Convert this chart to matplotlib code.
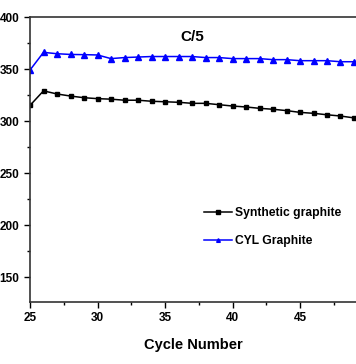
import matplotlib
matplotlib.use("Agg")
import matplotlib.pyplot as plt
from matplotlib.ticker import MultipleLocator

cycles = list(range(25, 50))
synthetic = [315, 329, 326, 324, 322.4, 321.5, 321, 320, 320, 319, 318.5, 318, 317, 317,
             315.7, 314.4, 313.5, 312.2, 311.3, 310, 308.3, 307.4, 306, 304.8, 303]
cyl = [349, 366, 364.7, 364, 363.8, 363.5, 360, 361, 361.5, 362, 362, 362, 362, 361,
       361, 360, 360, 360, 359, 359, 358, 358, 358, 357, 357]

plt.rcParams['font.family'] = ['Liberation Sans', 'DejaVu Sans']
plt.rcParams['font.weight'] = 'bold'

fig = plt.figure(figsize=(3.56, 3.64), dpi=100)
ax = fig.add_axes([30/356, 1-302/364, 1-30/356, (302-17)/364])

ax.plot(cycles, synthetic, color='black', marker='s', markersize=3.2, linewidth=1.1,
        label='Synthetic graphite')
ax.plot(cycles, cyl, color='blue', marker='^', markersize=3.8, linewidth=1.1,
        label='CYL Graphite')

ax.set_xlim(25, 25 + 326/13.5)
ax.set_ylim(126, 400)
ax.xaxis.set_major_locator(MultipleLocator(5))
ax.xaxis.set_minor_locator(MultipleLocator(2.5))
ax.yaxis.set_major_locator(MultipleLocator(50))
ax.yaxis.set_minor_locator(MultipleLocator(25))
ax.tick_params(axis='both', which='major', direction='out', length=4, width=1,
               labelsize=8.5)
ax.tick_params(axis='both', which='minor', direction='out', length=2, width=1)
for lbl in ax.get_xticklabels() + ax.get_yticklabels():
    lbl.set_fontweight('bold')
ax.spines['right'].set_visible(False)
for s in ['left', 'bottom', 'top']:
    ax.spines[s].set_linewidth(1.2)
    ax.spines[s].set_color('#333333')

ax.set_xlabel('Cycle Number', fontsize=10.5, fontweight='bold', labelpad=10)
ax.text(0.497, 0.93, 'C/5', transform=ax.transAxes, fontsize=11, fontweight='bold',
        ha='center', va='center')

leg = ax.legend(loc='upper left', bbox_to_anchor=(0.5, 0.37), frameon=False,
                fontsize=8.7, handlelength=2.3, handletextpad=0.3, labelspacing=1.3,
                markerscale=0.7)
for t in leg.get_texts():
    t.set_fontweight('bold')

fig.savefig('out.png', dpi=100)
